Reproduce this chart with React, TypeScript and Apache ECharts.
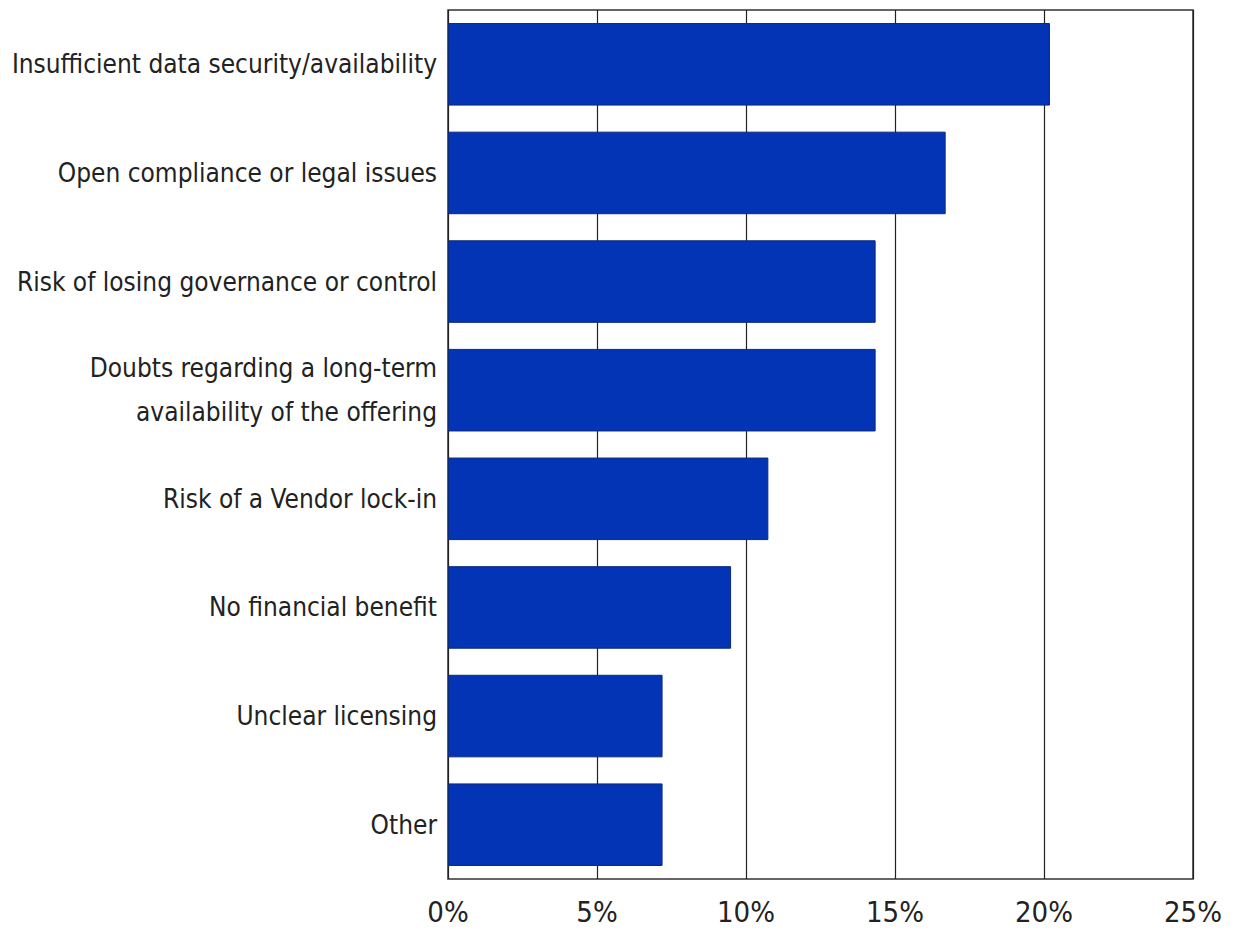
import React, { useEffect, useRef } from "react";
import * as echarts from "echarts";

const categories = [
  "Insufficient data security/availability",
  "Open compliance or legal issues",
  "Risk of losing governance or control",
  "Doubts regarding a long-term\navailability of the offering",
  "Risk of a Vendor lock-in",
  "No financial benefit",
  "Unclear licensing",
  "Other",
];
const values = [20.2, 16.7, 14.35, 14.35, 10.75, 9.5, 7.2, 7.2];
const xTicks = [0, 5, 10, 15, 20, 25];

export default function App() {
  const ref = useRef<HTMLDivElement>(null);
  useEffect(() => {
    const chart = echarts.init(ref.current!, null, { renderer: "svg" });
    chart.setOption({
      animation: false,
      backgroundColor: "#ffffff",
      grid: {
        left: 448,
        right: 42,
        top: 10,
        bottom: 55,
        show: true,
        borderColor: "#333",
        borderWidth: 1.5,
      },
      xAxis: {
        type: "value",
        min: xTicks[0],
        max: xTicks[xTicks.length - 1],
        interval: 5,
        axisLine: { show: false },
        axisTick: { show: false },
        splitLine: { show: true, lineStyle: { color: "#222", width: 1.2 } },
        axisLabel: {
          formatter: (v: number) => v + "%",
          fontFamily: "DejaVu Sans Condensed",
          fontSize: 29,
          color: "#222",
          margin: 18,
        },
      },
      yAxis: {
        type: "category",
        data: categories,
        inverse: true,
        axisLine: { show: false },
        axisTick: { show: false },
        axisLabel: {
          fontFamily: "DejaVu Sans Condensed",
          fontSize: 26,
          color: "#222",
          margin: 11,
          lineHeight: 44,
          align: "right",
        },
      },
      series: [
        {
          type: "bar",
          data: values,
          barCategoryGap: "24%",
          itemStyle: { color: "#0334b6", borderColor: "#0a2a7a", borderWidth: 1 },
        },
      ],
    });
    return () => chart.dispose();
  }, []);
  return (
    <div
      ref={ref}
      style={{ position: "fixed", left: 0, top: 0, width: 1235, height: 934 }}
    />
  );
}
